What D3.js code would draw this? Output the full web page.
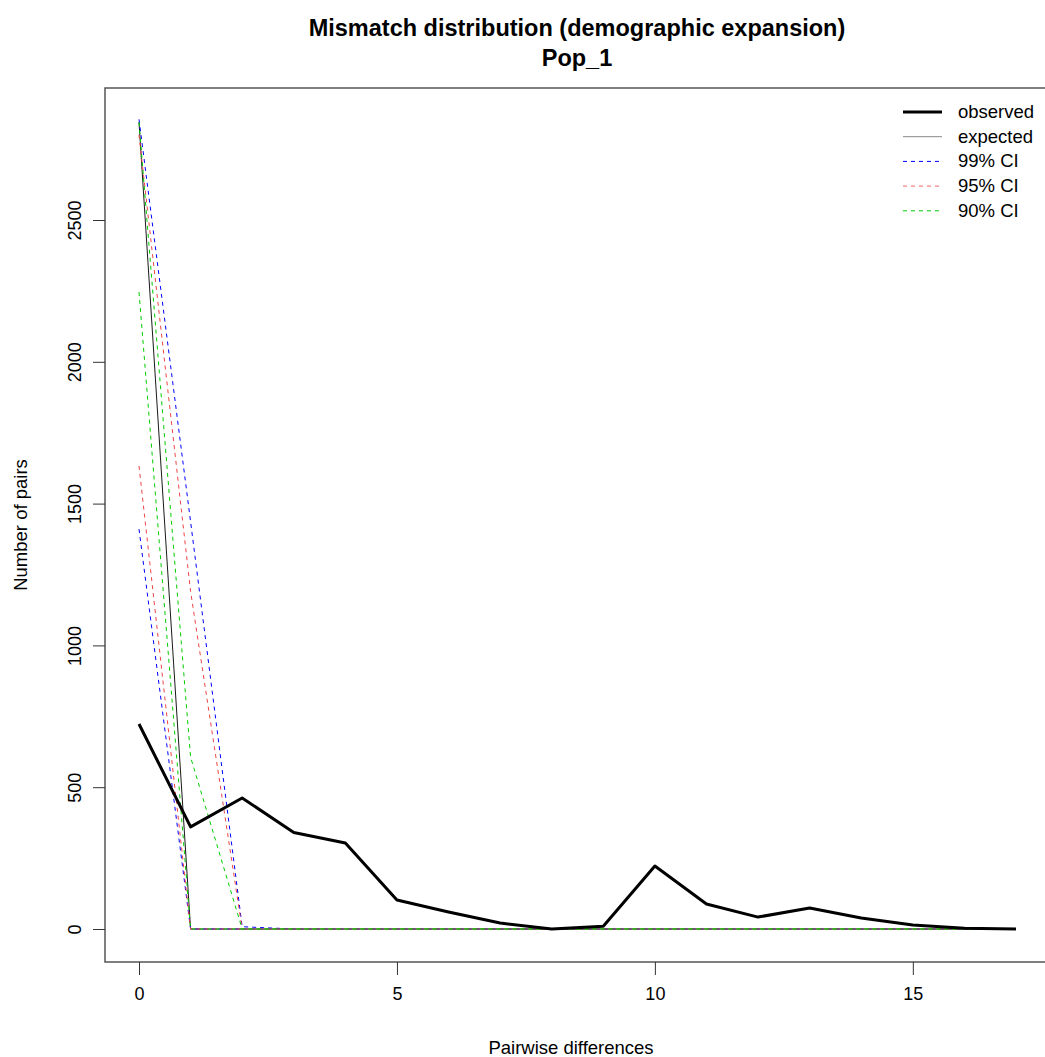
<!DOCTYPE html>
<html>
<head>
<meta charset="utf-8">
<script src="https://cdn.jsdelivr.net/npm/d3@7"></script>
<style>
  html, body { margin: 0; padding: 0; background: #fff; }
  svg { display: block; font-family: "Liberation Sans", Arial, sans-serif; }
</style>
</head>
<body>
<svg id="chart" width="1045" height="1057"></svg>
<script>
// ---- data ----
const pairwise = [0,1,2,3,4,5,6,7,8,9,10,11,12,13,14,15,16,17];
const observed = [723,360,462,340,303,102,60,21,0,10,222,88,42,74,39,14,3,0];
const expected = [2845,0,0,0,0,0,0,0,0,0,0,0,0,0,0,0,0,0];
const ci99Lower = [1410,0,0,0,0,0,0,0,0,0,0,0,0,0,0,0,0,0];
const ci99Upper = [2855,1436,8,0,0,0,0,0,0,0,0,0,0,0,0,0,0,0];
const ci95Lower = [1633,0,0,0,0,0,0,0,0,0,0,0,0,0,0,0,0,0];
const ci95Upper = [2800,1190,0,0,0,0,0,0,0,0,0,0,0,0,0,0,0,0];
const ci90Lower = [2246,0,0,0,0,0,0,0,0,0,0,0,0,0,0,0,0,0];
const ci90Upper = [2845,606,0,0,0,0,0,0,0,0,0,0,0,0,0,0,0,0];
const xTicks = [0,5,10,15];
const yTicks = [0,500,1000,1500,2000,2500];
const legendLabels = ["observed","expected","99% CI","95% CI","90% CI"];
const titleLines = ["Mismatch distribution (demographic expansion)","Pop_1"];

// ---- layout ----
const svg = d3.select("#chart");
const box = {left:105, top:88, right:1051, bottom:962};
const x = d3.scaleLinear().domain([0,17]).range([139,1016]);
const y = d3.scaleLinear().domain([0,2500]).range([929,220]);

const line = d3.line().x((d,i)=>x(pairwise[i])).y(d=>y(d));

const series = [
  {data: expected, color:"#1a1a1a", w:1, dash:null},
  {data: ci99Lower, color:"#0000ff", w:1, dash:"4,4"},
  {data: ci99Upper, color:"#0000ff", w:1, dash:"4,4"},
  {data: ci95Lower, color:"#ee4444", w:1, dash:"4,4"},
  {data: ci95Upper, color:"#ee4444", w:1, dash:"4,4"},
  {data: ci90Lower, color:"#00cc00", w:1, dash:"4,4"},
  {data: ci90Upper, color:"#00cc00", w:1, dash:"4,4"},
  {data: observed, color:"#000", w:3, dash:null}
];
svg.append("g").selectAll("path").data(series).join("path")
  .attr("d", s=>line(s.data))
  .attr("fill","none")
  .attr("stroke", s=>s.color)
  .attr("stroke-width", s=>s.w)
  .attr("stroke-dasharray", s=>s.dash)
  .attr("stroke-linejoin","round");

// box
svg.append("rect")
  .attr("x", box.left).attr("y", box.top)
  .attr("width", box.right-box.left).attr("height", box.bottom-box.top)
  .attr("fill","none").attr("stroke","#555").attr("stroke-width",1.5);

// x axis
const xAxis = svg.append("g").attr("transform",`translate(0,${box.bottom})`)
  .call(d3.axisBottom(x).tickValues(xTicks).tickSize(13).tickPadding(12).tickFormat(d3.format("d")));
xAxis.select(".domain").remove();
xAxis.selectAll("line").attr("stroke","#333");
xAxis.selectAll("text").attr("font-size",18).attr("fill","#000").attr("font-family","Liberation Sans, Arial, sans-serif");

// y axis
const yAxis = svg.append("g").attr("transform",`translate(${box.left},0)`)
  .call(d3.axisLeft(y).tickValues(yTicks).tickSize(12).tickFormat(d3.format("d")));
yAxis.select(".domain").remove();
yAxis.selectAll("line").attr("stroke","#333");
yAxis.selectAll("text")
  .attr("font-size",18).attr("fill","#000").attr("font-family","Liberation Sans, Arial, sans-serif")
  .attr("x",0).attr("dy",null).attr("text-anchor","middle")
  .attr("transform","translate(-30,0) rotate(-90)")
  .attr("y",6);

// titles
svg.append("g").selectAll("text").data(titleLines).join("text")
  .attr("x",577).attr("y",(d,i)=>36+i*30)
  .attr("text-anchor","middle").attr("font-weight","bold").attr("font-size",23.5)
  .text(d=>d);

svg.append("text").attr("x",571).attr("y",1054).attr("text-anchor","middle")
  .attr("font-size",18.5).text("Pairwise differences");
svg.append("text").attr("transform","translate(27,525) rotate(-90)").attr("text-anchor","middle")
  .attr("font-size",18.5).text("Number of pairs");

// legend
const legendStyles = [
  {color:"#000", w:3, dash:null},
  {color:"#888", w:1, dash:null},
  {color:"#0000ff", w:1, dash:"4,4"},
  {color:"#ee6666", w:1, dash:"4,4"},
  {color:"#00cc00", w:1, dash:"4,4"}
];
const lg = svg.append("g").selectAll("g").data(legendLabels).join("g")
  .attr("transform",(d,i)=>`translate(0,${112+i*24.7})`);
lg.append("line").attr("x1",903).attr("x2",942).attr("y1",0).attr("y2",0)
  .attr("stroke",(d,i)=>legendStyles[i].color)
  .attr("stroke-width",(d,i)=>legendStyles[i].w)
  .attr("stroke-dasharray",(d,i)=>legendStyles[i].dash);
lg.append("text").attr("x",958).attr("y",6).attr("font-size",18.5).text(d=>d);
</script>
</body>
</html>
